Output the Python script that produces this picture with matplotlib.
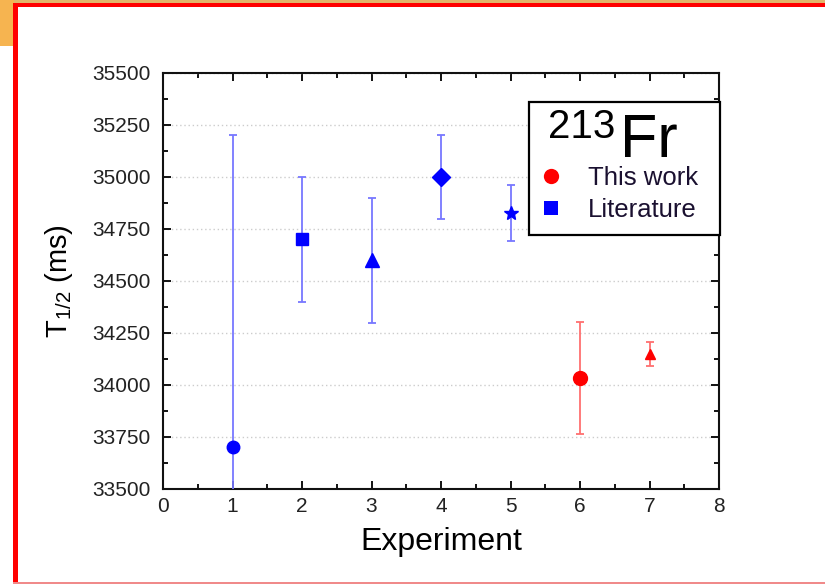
import matplotlib
matplotlib.use("Agg")
import matplotlib.pyplot as plt
from matplotlib.lines import Line2D
from matplotlib.patches import Rectangle

plt.rcParams['font.family'] = ['Liberation Sans', 'DejaVu Sans']
plt.rcParams['mathtext.fontset'] = 'custom'
plt.rcParams['mathtext.rm'] = 'Liberation Sans'
plt.rcParams['mathtext.it'] = 'Liberation Sans'

# Half-life measurements of 213Fr (ms)
lit_x = [1, 2, 3, 4, 5]
lit_y = [33700, 34700, 34600, 35000, 34825]
lit_err = [1500, 300, 300, 200, 135]
lit_markers = ['o', 's', '^', 'D', '*']
lit_sizes = [9, 8, 10, 9, 10]

work_x = [6, 7]
work_y = [34034, 34150]
work_err = [270, 58]
work_markers = ['o', '^']
work_sizes = [10, 7]

x_ticks = [0, 1, 2, 3, 4, 5, 6, 7, 8]
y_ticks = [33500, 33750, 34000, 34250, 34500, 34750, 35000, 35250, 35500]

W, H = 825, 584
fig = plt.figure(figsize=(W / 100, H / 100), dpi=100)

def px_rect(x0, y0, x1, y1, color, z=0):
    fig.patches.append(Rectangle((x0 / W, 1 - y1 / H), (x1 - x0) / W, (y1 - y0) / H,
                                 transform=fig.transFigure, facecolor=color,
                                 edgecolor='none', zorder=z))

# slide frame decoration
px_rect(0, 0, W, 4, '#e2b56a')
px_rect(0, 0, 14, 46, '#f6b450')
px_rect(13, 3, 18, H, '#ff0000', 1)
px_rect(13, 3, W, 7, '#ff0000', 1)
px_rect(13, 582, W, H, '#f08a8a', 1)

ax = fig.add_axes([163 / W, 1 - 489 / H, (719 - 163) / W, (489 - 73) / H])

blue_bar = '#7777ff'
red_bar = '#ff6f6f'
for x, y, e, m, s in zip(lit_x, lit_y, lit_err, lit_markers, lit_sizes):
    ax.errorbar(x, y, yerr=e, fmt=m, color='#0000ff', ecolor=blue_bar,
                elinewidth=1.3, capsize=3.2, capthick=1.3, markersize=s,
                markeredgecolor='#0000ff', zorder=3)
for x, y, e, m, s in zip(work_x, work_y, work_err, work_markers, work_sizes):
    ax.errorbar(x, y, yerr=e, fmt=m, color='#ff0000', ecolor=red_bar,
                elinewidth=1.3, capsize=3.2, capthick=1.3, markersize=s,
                markeredgecolor='#ff0000', zorder=3)

ax.set_xlim(0, 8)
ax.set_ylim(33500, 35500)
ax.set_xticks(x_ticks)
ax.set_yticks(y_ticks)
ax.set_xticks([v + 0.5 for v in x_ticks[:-1]], minor=True)
ax.set_yticks([v + 125 for v in y_ticks[:-1]], minor=True)
ax.yaxis.grid(True, which='major', linestyle=(0, (1, 2)), color='#cccccc', linewidth=1)
ax.set_axisbelow(True)

ax.tick_params(which='both', direction='in', top=True, right=True, width=1.4,
               labelsize=15, colors='#111111', labelcolor='#222222')
ax.tick_params(which='major', length=6)
ax.tick_params(which='minor', length=3.5)
ax.tick_params(axis='y', pad=9)
ax.tick_params(axis='x', pad=6)
for sp in ax.spines.values():
    sp.set_linewidth(1.5)
    sp.set_color('#111111')

ax.set_xlabel('Experiment', fontsize=23, labelpad=8)
ax.set_ylabel(r'T$_{\mathregular{1/2}}$ (ms)', fontsize=21, labelpad=12)

# legend box with nuclide label
box = Rectangle((529 / W, 1 - 235 / H), (720 - 529) / W, (235 - 102) / H,
                transform=fig.transFigure, facecolor='white', edgecolor='black',
                linewidth=1.6, zorder=5)
fig.patches.append(box)
fig.text(548 / W, 1 - 138 / H, '213', fontsize=29, ha='left', va='baseline', zorder=6)
fig.text(620 / W, 1 - 157 / H, 'Fr', fontsize=44, ha='left', va='baseline', zorder=6)

handles = [Line2D([], [], linestyle='none', marker='o', color='#ff0000', markersize=11,
                  markeredgewidth=0),
           Line2D([], [], linestyle='none', marker='s', color='#0000ff', markersize=10,
                  markeredgewidth=0)]
leg = fig.legend(handles, ['This work', 'Literature'], loc='upper left',
                 bbox_to_anchor=(538 / W, 1 - 166 / H), frameon=False, fontsize=18.5,
                 handlelength=1.0, handletextpad=0.95, labelspacing=0.33,
                 borderpad=0, borderaxespad=0)
leg.set_zorder(7)
for t in leg.get_texts():
    t.set_color('#1a1030')

fig.savefig('out.png', dpi=100)
